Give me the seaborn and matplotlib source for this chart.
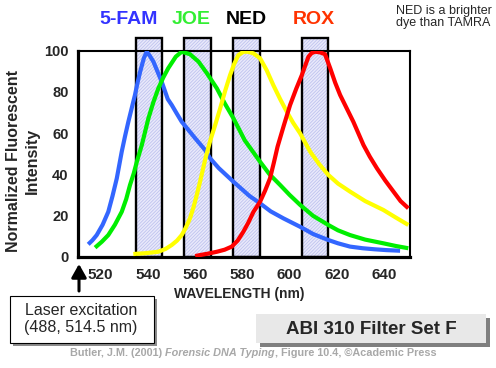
import numpy as np
import pandas as pd
import matplotlib
matplotlib.use('Agg')
import matplotlib.pyplot as plt
from matplotlib.patches import Rectangle
import seaborn as sns

# emission spectra (wavelength nm, normalized intensity)
fam_nm = [514.7, 516.5, 518.3, 520.8, 523.2, 525.0, 526.8, 528.9, 530.3, 531.7, 533.1, 534.5,
          535.6, 536.7, 538.3, 539.5, 540.8, 542.3, 544.0, 545.8, 548.4, 550.1, 552.2, 554.3,
          556.8, 560.0, 564.2, 566.3, 570.0, 576.2, 583.0, 587.5, 592.0, 597.4, 604.5, 610.0,
          616.4, 620.5, 625.6, 631.0, 636.0, 641.0, 646.8]
fam_val = [6.0, 8.0, 10.5, 15.5, 21.8, 29.5, 38.0, 51.0, 58.5, 65.5, 72.0, 78.5,
           84.5, 89.8, 96.5, 99.5, 97.5, 94.7, 90.0, 85.0, 76.5, 73.6, 69.5, 65.5,
           62.0, 57.5, 51.8, 47.8, 43.0, 36.4, 29.5, 25.9, 22.0, 18.6, 14.5, 11.0,
           8.1, 6.5, 4.9, 4.1, 3.6, 3.2, 2.9]

joe_nm = [517.6, 520.5, 523.2, 526.0, 528.9, 530.8, 532.4, 534.0, 535.3, 537.4, 540.2, 542.3,
          544.4, 546.5, 548.6, 551.8, 554.3, 557.8, 561.4, 565.0, 569.2, 572.5, 576.2, 581.0,
          587.5, 591.5, 596.0, 600.0, 604.5, 610.0, 616.4, 620.5, 625.6, 632.0, 639.7, 645.0, 650.3]
joe_val = [4.4, 7.3, 10.5, 15.5, 21.8, 28.0, 34.8, 40.5, 46.1, 54.2, 67.2, 75.0,
           81.7, 87.0, 91.5, 97.1, 99.5, 98.3, 94.7, 89.0, 81.7, 74.5, 67.2, 56.5,
           46.1, 40.0, 34.8, 30.0, 25.1, 19.8, 15.4, 12.8, 10.5, 8.3, 6.5, 5.2, 4.1]

ned_nm = [533.8, 539.0, 544.4, 547.5, 550.1, 552.3, 554.3, 556.0, 557.8, 559.3, 560.7, 562.5,
          564.2, 566.3, 568.5, 570.6, 572.7, 574.8, 576.5, 578.3, 580.5, 582.5, 584.7, 587.5,
          590.3, 593.1, 596.0, 598.8, 601.5, 604.4, 608.7, 612.5, 616.4, 620.5, 625.6, 632.0,
          639.7, 645.0, 650.3]
ned_val = [1.3, 1.7, 2.4, 3.8, 5.7, 7.8, 10.5, 14.0, 18.6, 24.0, 30.0, 38.5,
           47.0, 56.0, 64.0, 72.0, 80.5, 88.2, 93.5, 97.9, 99.5, 99.5, 98.7, 96.3,
           90.5, 83.3, 76.5, 70.4, 65.0, 60.0, 51.0, 45.0, 39.7, 35.5, 31.6, 27.0,
           22.7, 19.0, 15.4]

rox_nm = [560.0, 562.1, 565.5, 569.2, 572.5, 575.5, 578.0, 580.4, 582.5, 584.7, 587.5, 589.6,
          591.7, 593.3, 594.9, 597.5, 600.2, 602.8, 605.2, 606.7, 608.0, 609.3, 610.8, 612.9,
          615.0, 617.2, 619.3, 621.4, 624.2, 627.0, 631.3, 634.0, 637.0, 640.5, 644.0, 647.0, 650.3]
rox_val = [0.3, 0.8, 1.5, 2.4, 3.4, 4.9, 7.8, 12.1, 16.5, 21.8, 26.7, 32.0,
           38.0, 45.5, 53.4, 63.5, 73.6, 81.5, 88.2, 93.0, 97.1, 98.8, 99.5, 99.2,
           98.3, 91.5, 84.5, 78.5, 72.0, 65.5, 54.2, 48.5, 42.9, 37.0, 31.6, 27.0, 23.5]

dyes = ['5-FAM', 'JOE', 'NED', 'ROX']
line_colors = ['#3366FF', '#00EE00', '#FFFF00', '#FF0000']
label_colors = ['#3333FF', '#33EE33', '#000000', '#FF3300']

# filter set F pass bands (nm)
band_lo = [535.0, 555.4, 576.2, 605.3]
band_hi = [546.1, 566.7, 587.5, 616.4]

xticks = [520, 540, 560, 580, 600, 620, 640]
yticks = [0, 20, 40, 60, 80, 100]

sns.set_style('white')
plt.rcParams['font.family'] = ['Liberation Sans', 'DejaVu Sans']
plt.rcParams['hatch.linewidth'] = 0.6

W, H = 496, 368
fig = plt.figure(figsize=(W / 100, H / 100), dpi=100)
ax = fig.add_axes([78.3 / W, 1 - 256.7 / H, (410 - 78.3) / W, (256.7 - 50.7) / H])

# hatched filter windows, drawn above the plot frame
lo = np.array(band_lo)
hi = np.array(band_hi)
ax.bar((lo + hi) / 2, 106, width=hi - lo, bottom=0, color='#E9E9FB', edgecolor='#BFC3EE',
       hatch='//////////', linewidth=0, clip_on=False, zorder=1)
ax.bar((lo + hi) / 2, 106, width=hi - lo, bottom=0, color='none', edgecolor='black',
       linewidth=1.7, clip_on=False, zorder=2)

spectra = [(fam_nm, fam_val), (joe_nm, joe_val), (ned_nm, ned_val), (rox_nm, rox_val)]
for (x, y), c in zip(spectra, line_colors):
    sns.lineplot(x=x, y=y, ax=ax, color=c, linewidth=3.0, zorder=3,
                 solid_joinstyle='round', solid_capstyle='butt')

ax.set_xlim(510.5, 651)
ax.set_ylim(0, 100)
ax.set_xticks(xticks)
ax.set_xticklabels([str(t) for t in xticks], fontsize=11, fontweight='bold')
ax.set_yticks(yticks)
ax.set_yticklabels([str(t) for t in yticks], fontsize=10.5, fontweight='bold')
ax.tick_params(axis='x', length=0, pad=8)
ax.tick_params(axis='y', direction='in', length=4, width=1.8, pad=7)
for s in ['left', 'bottom']:
    ax.spines[s].set_linewidth(2.3)
for s in ['top', 'right']:
    ax.spines[s].set_linewidth(1.5)
for s in ax.spines.values():
    s.set_color('black')
    s.set_zorder(2.5)
ax.set_xlabel('')
ax.set_ylabel('')

fig.text(239 / W, 1 - 294 / H, 'WAVELENGTH (nm)', fontsize=10, fontweight='bold',
         ha='center', va='center')
fig.text(23 / W, 1 - 161 / H, 'Normalized Fluorescent\nIntensity', fontsize=11.5,
         fontweight='bold', rotation=90, ha='center', va='center', linespacing=1.3)

# dye names over the filter windows
for name, c, xp in zip(dyes, label_colors, [129, 191, 246, 314]):
    fig.text(xp / W, 1 - 19 / H, name, fontsize=14, fontweight='bold', color=c,
             ha='center', va='center')

fig.text(396 / W, 1 - 5 / H, 'NED is a brighter\ndye than TAMRA', fontsize=9,
         ha='left', va='top', linespacing=1.05)

# laser excitation arrow + box
ax.annotate('', xy=(79 / W, 1 - 264 / H), xytext=(79 / W, 1 - 291 / H),
            xycoords='figure fraction', textcoords='figure fraction',
            arrowprops=dict(arrowstyle='-|>,head_length=0.8,head_width=0.45',
                            lw=2.2, color='black', mutation_scale=10,
                            shrinkA=0, shrinkB=0))
fig.add_artist(Rectangle((13 / W, 1 - 346 / H), 144 / W, 47 / H, transform=fig.transFigure,
                         facecolor='#8C8C8C', edgecolor='none'))
fig.add_artist(Rectangle((10 / W, 1 - 343 / H), 144 / W, 47 / H, transform=fig.transFigure,
                         facecolor='white', edgecolor='black', linewidth=0.8))
fig.text(81 / W, 1 - 319 / H, 'Laser excitation\n(488, 514.5 nm)', fontsize=11.5,
         ha='center', va='center', linespacing=1.15)

# filter set caption box
fig.add_artist(Rectangle((260 / W, 1 - 347 / H), 230 / W, 29 / H, transform=fig.transFigure,
                         facecolor='#7F7F7F', edgecolor='none'))
fig.add_artist(Rectangle((256 / W, 1 - 343 / H), 230 / W, 29 / H, transform=fig.transFigure,
                         facecolor='#E8E8E8', edgecolor='none'))
fig.text(371 / W, 1 - 329 / H, 'ABI 310 Filter Set F', fontsize=13.5, fontweight='bold',
         ha='center', va='center')

# citation line, mixed upright / italic
fig.canvas.draw()
rend = fig.canvas.get_renderer()
gray = '#A8A8A8'
xpos = 70 / W
parts = [('Butler, J.M. (2001)', 'normal'), ('Forensic DNA Typing', 'italic'),
         (', Figure 10.4, \u00a9Academic Press', 'normal')]
for i, (txt, st) in enumerate(parts):
    t = fig.text(xpos, 1 - 353 / H, txt, fontsize=7.8, fontweight='bold', style=st,
                 color=gray, ha='left', va='center')
    w = t.get_window_extent(renderer=rend).width / fig.bbox.width
    xpos += w + (3 / W if i == 0 else 0)

fig.savefig('out.png', dpi=100)
